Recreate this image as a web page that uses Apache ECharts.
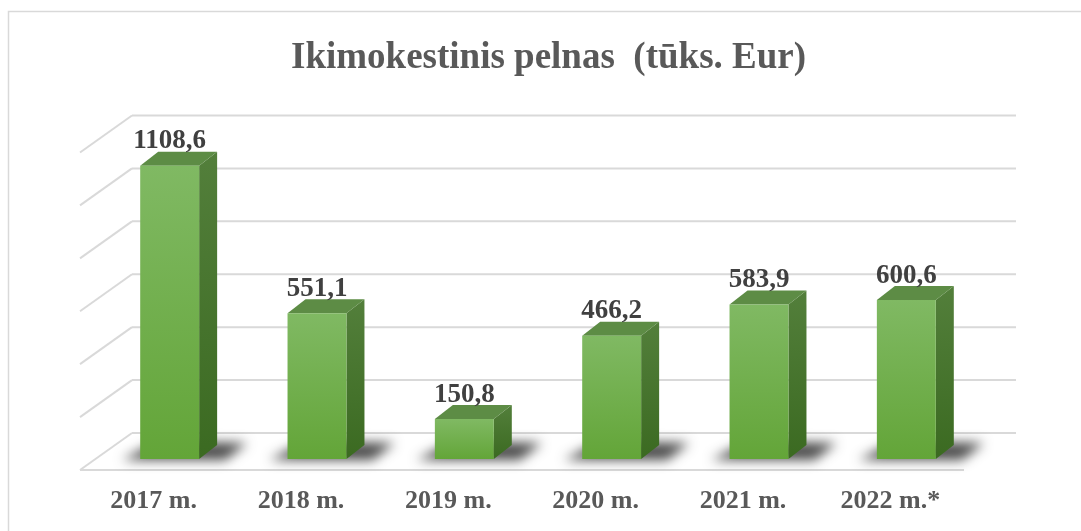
<!DOCTYPE html>
<html>
<head>
<meta charset="utf-8">
<title>Ikimokestinis pelnas</title>
<script src="https://cdn.jsdelivr.net/npm/echarts@6/dist/echarts.min.js"></script>
<style>
html, body { margin: 0; padding: 0; background: #fff; }
#main { width: 1081px; height: 531px; }
</style>
</head>
<body>
<div id="main"></div>
<script>
// duomenys
var years = ['2017 m.', '2018 m.', '2019 m.', '2020 m.', '2021 m.', '2022 m.*'];
var profit = [1108.6, 551.1, 150.8, 466.2, 583.9, 600.6];
var gridTicks = [0, 200, 400, 600, 800, 1000, 1200];

(function () {
    var myChart = echarts.init(document.getElementById('main'));
    var serif = '"Liberation Serif", "Times New Roman", serif';

    // 3D poslinkiai (px)
    var BAR_DX = 18, BAR_DY = -14;     // stulpelio gylis
    var BACK_DX = 36, BACK_DY = -26;   // galine siena
    var FRONT_DX = -16, FRONT_DY = 11; // priekinis grindu kraštas
    var SHIFT = 3000;                  // šešėlis piešiamas už ekrano ir grąžinamas offsetu

    var wallData = gridTicks.map(function (v) { return [0, v]; });
    var barData = profit.map(function (v, i) { return [i, v]; });

    function renderWall(params, api) {
        var cs = params.coordSys;
        var y = api.coord([0, api.value(1)])[1];
        var left = cs.x, right = cs.x + cs.width;
        var style = { stroke: '#d9d9d9', lineWidth: 2 };
        var children = [
            { type: 'line', shape: { x1: left + BACK_DX, y1: y + BACK_DY, x2: right + BACK_DX, y2: y + BACK_DY }, style: style },
            { type: 'line', shape: { x1: left + FRONT_DX, y1: y + FRONT_DY, x2: left + BACK_DX, y2: y + BACK_DY }, style: style }
        ];
        if (api.value(1) === 0) {
            children.push({ type: 'line', shape: { x1: left + FRONT_DX, y1: y + FRONT_DY, x2: right + FRONT_DX, y2: y + FRONT_DY }, style: style });
        }
        return { type: 'group', children: children };
    }

    function renderBar(params, api) {
        var top = api.coord([api.value(0), api.value(1)]);
        var base = api.coord([api.value(0), 0]);
        var w = api.size([1, 0])[0] * 0.4;
        var x0 = top[0] - w / 2, x1 = top[0] + w / 2;
        var yt = top[1], yb = base[1];
        var label = api.value(1).toFixed(1).replace('.', ',');
        return {
            type: 'group',
            children: [
                {
                    type: 'polygon',
                    shape: { points: [
                        [x0 - 18 - SHIFT, yb + 1], [x1 + BAR_DX + 8 - SHIFT, yb + 1],
                        [x1 + BAR_DX + 30 - SHIFT, yb + BAR_DY - 2], [x0 + BAR_DX - SHIFT, yb + BAR_DY - 4]] },
                    style: { fill: '#000', shadowBlur: 12, shadowColor: 'rgba(0,0,0,0.7)', shadowOffsetX: SHIFT }
                },
                {
                    type: 'polygon',
                    shape: { points: [[x1, yt], [x1 + BAR_DX, yt + BAR_DY], [x1 + BAR_DX, yb + BAR_DY], [x1, yb]] },
                    style: { fill: new echarts.graphic.LinearGradient(0, 0, 0, 1, [
                        { offset: 0, color: '#537f3b' }, { offset: 1, color: '#3b6a21' }]) }
                },
                {
                    type: 'polygon',
                    shape: { points: [[x0, yt], [x0 + BAR_DX, yt + BAR_DY], [x1 + BAR_DX, yt + BAR_DY], [x1, yt]] },
                    style: { fill: '#5d8c45' }
                },
                {
                    type: 'rect',
                    shape: { x: x0, y: yt, width: w, height: yb - yt },
                    style: { fill: new echarts.graphic.LinearGradient(0, 0, 0, 1, [
                        { offset: 0, color: '#80b963' }, { offset: 1, color: '#63a538' }]) }
                },
                {
                    type: 'text',
                    x: top[0], y: yt + BAR_DY + 3,
                    style: {
                        text: label, align: 'center', verticalAlign: 'bottom',
                        fontFamily: serif, fontSize: 27, fontWeight: 'bold', fill: '#404040'
                    }
                }
            ]
        };
    }

    var option = {
        animation: false,
        backgroundColor: '#fff',
        title: {
            text: 'Ikimokestinis pelnas  (tūks. Eur)',
            left: 286,
            top: 35,
            textStyle: { fontFamily: serif, fontSize: 37, fontWeight: 'bold', color: '#595959' }
        },
        graphic: [{
            type: 'rect',
            shape: { x: 8.5, y: 11.5, width: 1200, height: 700 },
            style: { fill: 'none', stroke: '#d9d9d9', lineWidth: 1.5 },
            silent: true
        }],
        grid: { left: 96, right: 101, top: 141.5, bottom: 72 },
        xAxis: {
            type: 'category',
            data: years,
            axisLine: { show: false },
            axisTick: { show: false },
            axisLabel: {
                margin: 29,
                padding: [0, 32, 0, 0],
                fontFamily: serif, fontSize: 26, fontWeight: 'bold', color: '#595959'
            }
        },
        yAxis: {
            type: 'value',
            min: 0, max: 1200, interval: 200,
            show: false
        },
        series: [
            { type: 'custom', name: 'wall', renderItem: renderWall, data: wallData, encode: { x: 0, y: 1 }, z: 1, silent: true },
            { type: 'custom', name: 'Ikimokestinis pelnas', renderItem: renderBar, data: barData, encode: { x: 0, y: 1 }, z: 2 }
        ]
    };

    myChart.setOption(option);
    window.addEventListener('resize', function () {
        myChart.resize();
    });
})();
</script>
</body>
</html>
